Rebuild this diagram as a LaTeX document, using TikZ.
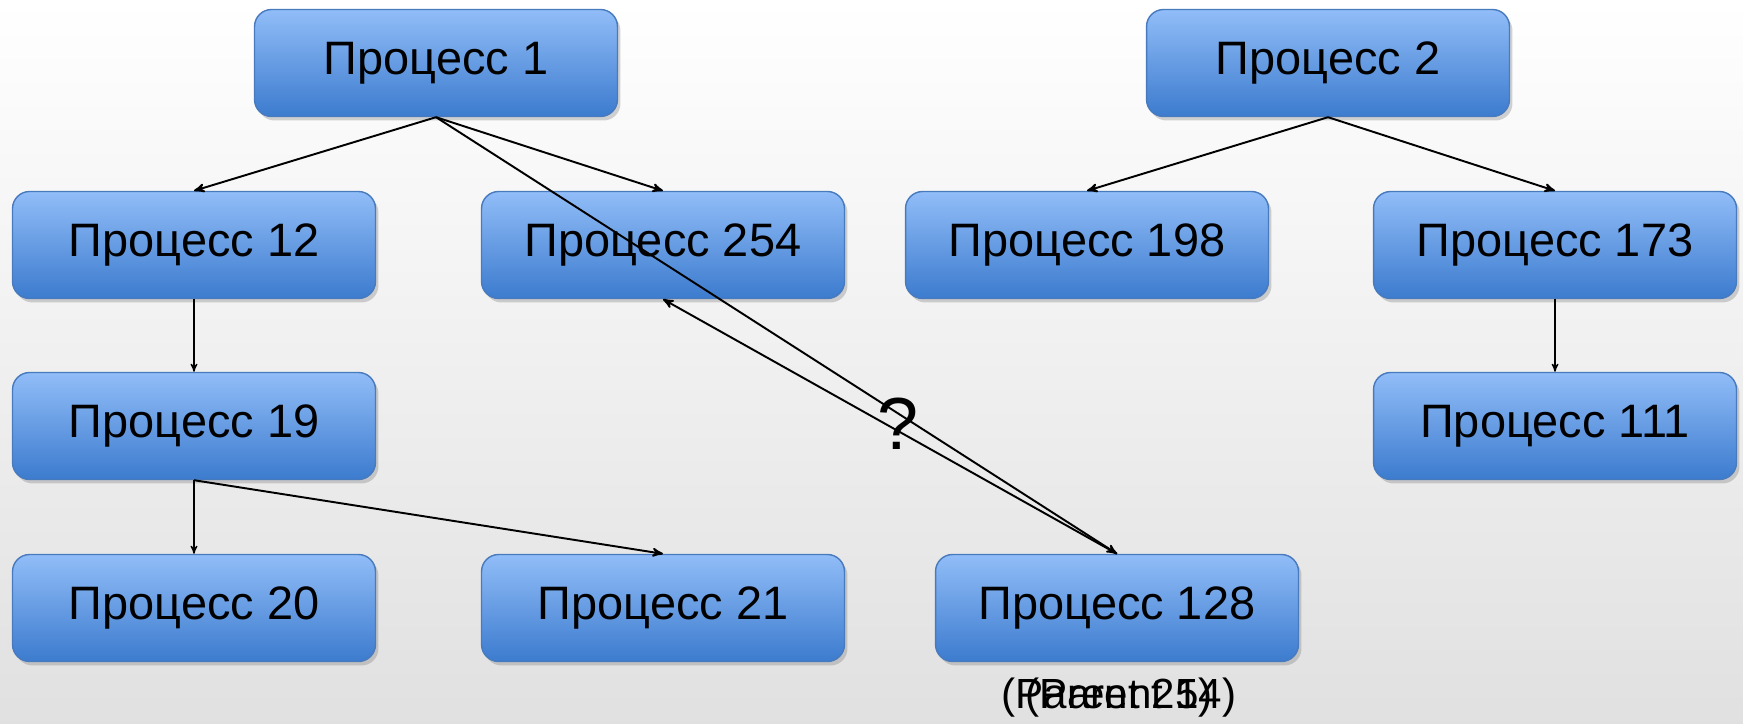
\documentclass[tikz,border=0pt]{standalone}
\usepackage{fontspec}
\setmainfont{Liberation Sans}
\usepackage{xcolor}
\usetikzlibrary{shapes,arrows,shadows}

\definecolor{procTop}{RGB}{145,189,248}
\definecolor{procBot}{RGB}{60,123,206}
\definecolor{procLine}{RGB}{72,122,190}

\tikzset{
    proc/.style={draw=procLine, line width=0.8pt, rounded corners=0.34cm,
        top color=procTop, bottom color=procBot,
        minimum width=7.26cm, minimum height=2.14cm, inner sep=0pt,
        drop shadow={opacity=0.35, shadow xshift=0.06cm, shadow yshift=-0.08cm},
        font=\fontsize{26.7}{30}\selectfont},
    link/.style={->, >=stealth', line width=1.1pt},
    thinlink/.style={->, >=stealth', line width=0.7pt}
}

\begin{document}
\begin{tikzpicture}[x=0.02cm, y=-0.02cm]
    \fill[top color=white, bottom color=black!12] (0,0) rectangle (1743,723);
    \useasboundingbox (0,0) rectangle (1743,723);
    % processes
    \foreach \n/\x/\y/\t in {p1/436/63/1, p2/1328/63/2,
            p12/194/245/12, p254/663/245/254, p198/1087/245/198, p173/1555/245/173,
            p19/194/426/19, p111/1555/426/111,
            p20/194/608/20, p21/663/608/21, p128/1117/608/128}
        \node[proc] (\n) at (\x,\y) {Процесс \t};
    % parent links
    \draw[link] (p1.south) -- (p12.north);
    \draw[link] (p1.south) -- (p254.north);
    \draw[link] (p1.south) -- (p128.north);
    \draw[link] (p128.north) -- (p254.south);
    \draw[link] (p2.south) -- (p198.north);
    \draw[link] (p2.south) -- (p173.north);
    \draw[thinlink] (p173.south) -- (p111.north);
    \draw[thinlink] (p12.south) -- (p19.north);
    \draw[thinlink] (p19.south) -- (p20.north);
    \draw[link] (p19.south) -- (p21.north);
    \node[font=\fontsize{42}{46}\selectfont] (ask) at (898,424) {?};
    \node[font=\fontsize{24}{28}\selectfont] (par1) at (1119,698) {(Parent 1)};
    \node[font=\fontsize{24}{28}\selectfont] (par254) at (1119,698) {(Parent 254)};
\end{tikzpicture}
\end{document}
